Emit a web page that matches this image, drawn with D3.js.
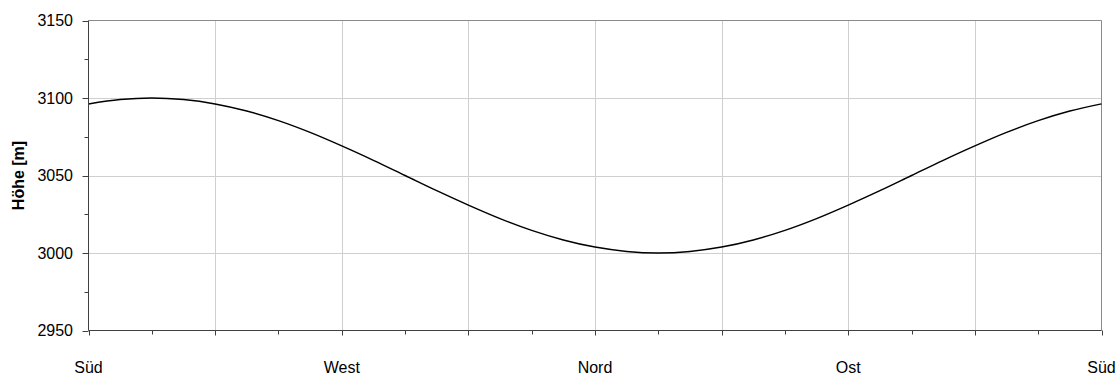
<!DOCTYPE html>
<html>
<head>
<meta charset="utf-8">
<script src="https://cdn.jsdelivr.net/npm/d3@7"></script>
<style>
  html, body { margin: 0; padding: 0; background: #fff; }
  svg { display: block; }
  text { font-family: Arial, "Liberation Sans", sans-serif; fill: #000; }
</style>
</head>
<body>
<svg id="chart" width="1118" height="376"></svg>
<script>
// Data: elevation (m) along the horizon, 33 points from Süd around to Süd
const heights = [
  3096.2, 3099.0, 3100.0, 3099.0, 3096.2, 3091.6, 3085.4, 3077.8,
  3069.1, 3059.8, 3050.0, 3040.2, 3030.9, 3022.2, 3014.6, 3008.4,
  3003.8, 3001.0, 3000.0, 3001.0, 3003.8, 3008.4, 3014.6, 3022.2,
  3030.9, 3040.2, 3050.0, 3059.8, 3069.1, 3077.8, 3085.4, 3091.6,
  3096.2
];
const directionLabels = ["Süd", "West", "Nord", "Ost", "Süd"];
const yTicks = [2950, 3000, 3050, 3100, 3150];
const yMinorTicks = [2975, 3025, 3075, 3125];
const yTitle = "Höhe [m]";

const svg = d3.select("#chart");
const L = 88.5, R = 1101.5, T = 20.5, B = 330.5;

const x = d3.scaleLinear().domain([0, heights.length - 1]).range([L, R]);
const xDir = d3.scaleLinear().domain([0, directionLabels.length - 1]).range([L, R]);
const y = d3.scaleLinear().domain([2950, 3150]).range([B, T]);

const gridX = d3.range(0, 8.001, 1).map(i => L + (R - L) * i / 8);
const tickX = d3.range(0, 16.001, 1).map(i => L + (R - L) * i / 16);

// Horizontal gridlines
svg.append("g").selectAll("line").data(yTicks.slice(1, -1)).join("line")
  .attr("x1", L).attr("x2", R)
  .attr("y1", d => Math.round(y(d)) + 0.5).attr("y2", d => Math.round(y(d)) + 0.5)
  .attr("stroke", "#cfcfcf").attr("stroke-width", 1);

// Vertical gridlines
svg.append("g").selectAll("line").data(gridX.slice(1, -1)).join("line")
  .attr("x1", d => Math.round(d) + 0.5).attr("x2", d => Math.round(d) + 0.5)
  .attr("y1", T).attr("y2", B)
  .attr("stroke", "#cfcfcf").attr("stroke-width", 1);

// Top and right frame
svg.append("path")
  .attr("d", `M${L},${T}H${R}V${B}`)
  .attr("fill", "none").attr("stroke", "#8a8a8a").attr("stroke-width", 1);

// Curve
svg.append("path")
  .datum(heights)
  .attr("d", d3.line().curve(d3.curveMonotoneX).x((d, i) => x(i)).y(d => y(d)))
  .attr("fill", "none").attr("stroke", "#000").attr("stroke-width", 1.5)
  .attr("stroke-linejoin", "round");

// Left axis
svg.append("line").attr("x1", L).attr("x2", L).attr("y1", T).attr("y2", B)
  .attr("stroke", "#404040").attr("stroke-width", 1);
svg.append("g").selectAll("line").data(yTicks).join("line")
  .attr("x1", L - 6).attr("x2", L)
  .attr("y1", d => Math.round(y(d)) + 0.5).attr("y2", d => Math.round(y(d)) + 0.5)
  .attr("stroke", "#404040");
svg.append("g").selectAll("line").data(yMinorTicks).join("line")
  .attr("x1", L - 4).attr("x2", L)
  .attr("y1", d => Math.round(y(d)) + 0.5).attr("y2", d => Math.round(y(d)) + 0.5)
  .attr("stroke", "#404040");
svg.append("g").selectAll("text").data(yTicks).join("text")
  .attr("x", 73).attr("y", d => y(d)).attr("dy", "0.36em")
  .attr("text-anchor", "end").attr("font-size", 16)
  .text(d => d);

// Bottom axis
svg.append("line").attr("x1", L).attr("x2", R).attr("y1", B).attr("y2", B)
  .attr("stroke", "#404040").attr("stroke-width", 1);
svg.append("g").selectAll("line").data(tickX).join("line")
  .attr("x1", d => Math.round(d) + 0.5).attr("x2", d => Math.round(d) + 0.5)
  .attr("y1", B).attr("y2", (d, i) => B + (i % 2 === 0 ? 5 : 4))
  .attr("stroke", "#404040");
svg.append("g").selectAll("text").data(directionLabels).join("text")
  .attr("x", (d, i) => xDir(i)).attr("y", 373)
  .attr("text-anchor", "middle").attr("font-size", 16)
  .text(d => d);

// Y title
svg.append("text")
  .attr("transform", `translate(23.5,${(T + B) / 2}) rotate(-90)`)
  .attr("text-anchor", "middle").attr("font-size", 16).attr("font-weight", "bold")
  .text(yTitle);
</script>
</body>
</html>
